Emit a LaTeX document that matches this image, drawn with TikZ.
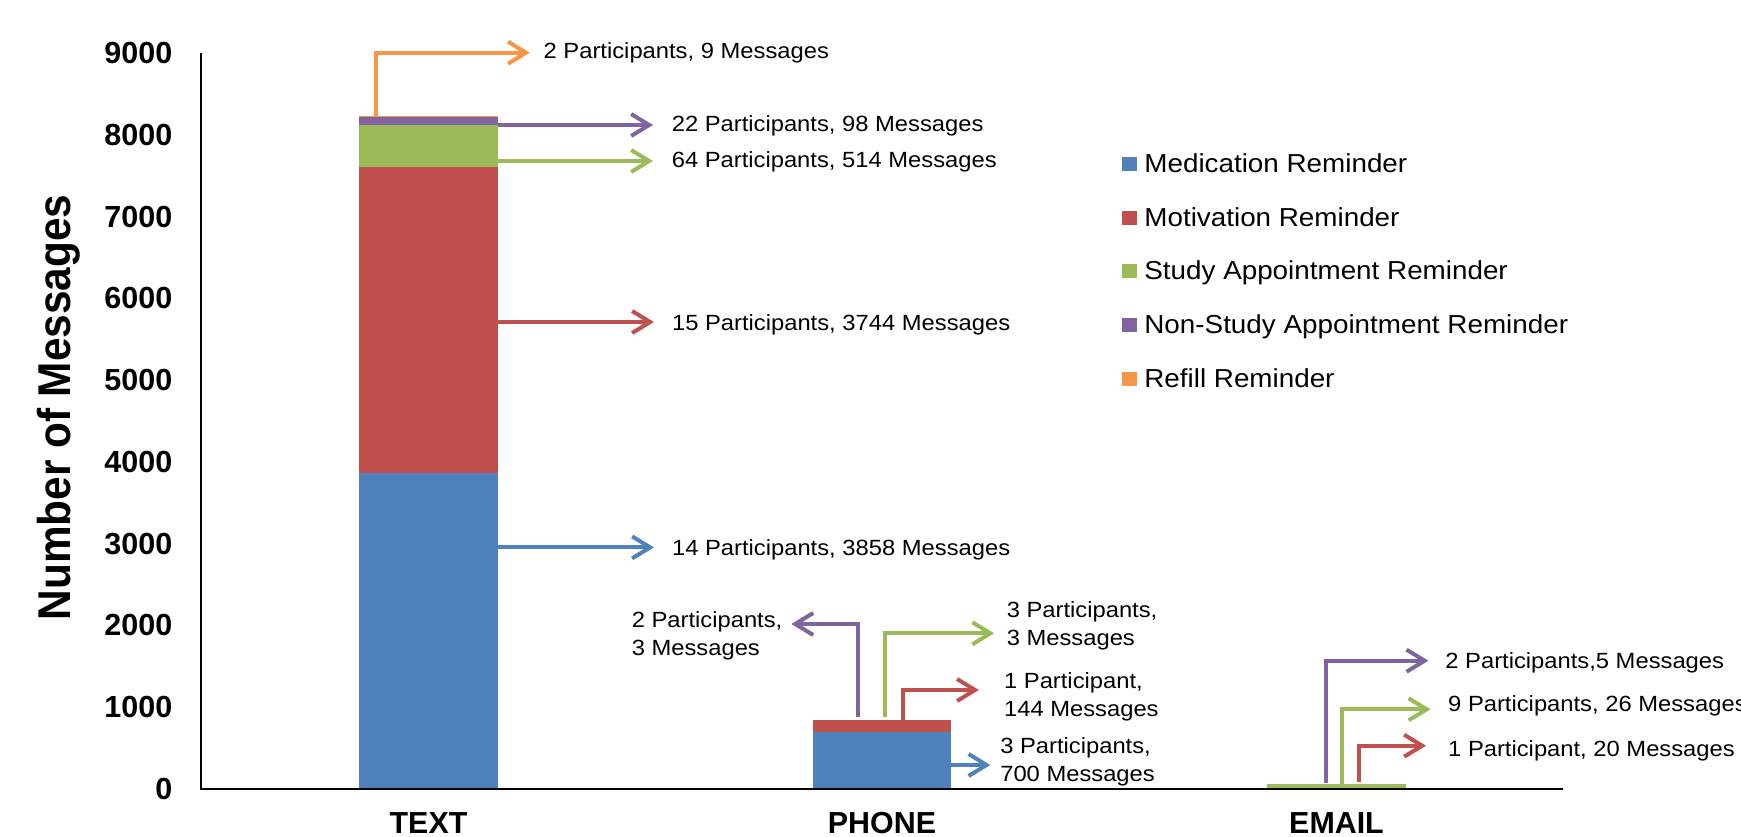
\documentclass[tikz,border=0pt]{standalone}
\usepackage{fontspec}
\setmainfont{Liberation Sans}
\newfontfamily\annotfont{Liberation Sans}[FakeStretch=1.08]
\newfontfamily\legfont{Liberation Sans}[FakeStretch=1.07]
\newfontfamily\ytitlefont{Liberation Sans}[FakeStretch=0.92]
\usetikzlibrary{arrows.meta}
\definecolor{cblue}{HTML}{4F81BD}
\definecolor{cred}{HTML}{C0504D}
\definecolor{cgreen}{HTML}{9BBB59}
\definecolor{cpurple}{HTML}{8064A2}
\definecolor{corange}{HTML}{F79646}
\tikzset{
  arr/.style={line width=2pt, -{Straight Barb[length=9pt,width=11pt]}},
  annot/.style={inner sep=0pt, font=\annotfont\fontsize{11pt}{14pt}\selectfont},
  annot2/.style={annot, align=left, anchor=west},
  ticklab/.style={inner sep=0pt, anchor=east, font=\bfseries\fontsize{15.25pt}{18pt}\selectfont},
  catlab/.style={inner sep=0pt, anchor=base, font=\bfseries\fontsize{15.2pt}{18pt}\selectfont},
  leglab/.style={inner sep=0pt, anchor=base west, font=\legfont\fontsize{13pt}{16pt}\selectfont},
  axisline/.style={line width=0.85pt, black}
}
\begin{document}
\begin{tikzpicture}[x=0.5pt, y=-0.5pt]
\useasboundingbox (0,0) rectangle (1741,836);
% bars TEXT
\fill[cblue]   (359,473.4) rectangle (498,789);
\fill[cred]    (359,167)   rectangle (498,473.4);
\fill[cgreen]  (359,125)   rectangle (498,167);
\fill[cpurple] (359,117)   rectangle (498,125);
\fill[corange] (359,115.5) rectangle (498,117);
% bars PHONE
\fill[cblue]   (813,731.7) rectangle (951,789);
\fill[cred]    (813,720)   rectangle (951,731.7);
% bars EMAIL
\fill[cgreen]  (1267,784.3) rectangle (1406,788.5);
% axes
\coordinate (yaxtop) at (201,53);
\coordinate (origin) at (201,789);
\coordinate (xaxend) at (1563,789);
\draw[axisline] (yaxtop) -- (origin) -- (xaxend);
% tick labels
\foreach \v/\n in {0/t0,1000/t1,2000/t2,3000/t3,4000/t4,5000/t5,6000/t6,7000/t7,8000/t8,9000/t9}
  \node[ticklab] (\n) at (172.7,{789-\v*0.081778}) {\v};
% axis title
\node[inner sep=0pt, rotate=90, anchor=base, font=\ytitlefont\bfseries\fontsize{23pt}{26pt}\selectfont] (ytitle) at (70,407.5) {Number of Messages};
% category labels
\node[catlab] (ctext)  at (428.5,833.5) {TEXT};
\node[catlab] (cphone) at (882,833.5) {PHONE};
\node[catlab] (cemail) at (1336.5,833.5) {EMAIL};
% legend
\foreach \i/\c/\t in {0/cblue/Medication Reminder,1/cred/Motivation Reminder,2/cgreen/Study Appointment Reminder,3/cpurple/Non-Study Appointment Reminder,4/corange/Refill Reminder}{
  \fill[\c] (1121.7,{156.7+53.8*\i}) rectangle (1136.7,{170.7+53.8*\i});
  \node[leglab] (leg\i) at (1144,{172.3+53.8*\i}) {\t};
}
% TEXT annotations
\coordinate (to1) at (375.9,115.7); \coordinate (to2) at (529.9,52.7);
\coordinate (tp1) at (498,125);     \coordinate (tp2) at (653,125);
\coordinate (tg1) at (498,161);     \coordinate (tg2) at (653,161);
\coordinate (tr1) at (498,322);     \coordinate (tr2) at (654,322);
\coordinate (tb1) at (498,547.4);   \coordinate (tb2) at (654,547.4);
\draw[arr, corange] (to1) |- (to2);
\draw[arr, cpurple] (tp1) -- (tp2);
\draw[arr, cgreen]  (tg1) -- (tg2);
\draw[arr, cred]    (tr1) -- (tr2);
\draw[arr, cblue]   (tb1) -- (tb2);
\node[annot, anchor=base west] (lto) at (543.3,58.3) {2 Participants, 9 Messages};
\node[annot, anchor=base west] (ltp) at (671.4,131.7) {22 Participants, 98 Messages};
\node[annot, anchor=base west] (ltg) at (671.4,167.3) {64 Participants, 514 Messages};
\node[annot, anchor=base west] (ltr) at (671.7,330) {15 Participants, 3744 Messages};
\node[annot, anchor=base west] (ltb) at (671.7,555) {14 Participants, 3858 Messages};
% PHONE annotations
\coordinate (pp1) at (858.3,716.7); \coordinate (pp2) at (791.4,624);
\coordinate (pg1) at (885,716.7);   \coordinate (pg2) at (994.2,633.3);
\coordinate (pr1) at (903,720);     \coordinate (pr2) at (978.9,690);
\coordinate (pb1) at (951,765);     \coordinate (pb2) at (990.4,765);
\draw[arr, cpurple] (pp1) |- (pp2);
\draw[arr, cgreen]  (pg1) |- (pg2);
\draw[arr, cred]    (pr1) |- (pr2);
\draw[arr, cblue]   (pb1) -- (pb2);
\node[annot2] (lpp) at (631.4,635.4) {2 Participants,\\3 Messages};
\node[annot2] (lpg) at (1006.4,625.4) {3 Participants,\\3 Messages};
\node[annot2] (lpr) at (1003.7,696.4) {1 Participant,\\144 Messages};
\node[annot2] (lpb) at (999.9,761.4) {3 Participants,\\700 Messages};
% EMAIL annotations
\coordinate (ep1) at (1326,782.7);   \coordinate (ep2) at (1428.4,660.7);
\coordinate (eg1) at (1341.5,785);   \coordinate (eg2) at (1430.5,709.3);
\coordinate (er1) at (1358.7,781.7); \coordinate (er2) at (1426,745.7);
\draw[arr, cpurple] (ep1) |- (ep2);
\draw[arr, cgreen]  (eg1) |- (eg2);
\draw[arr, cred]    (er1) |- (er2);
\node[annot, anchor=base west] (lep) at (1445,668.3) {2 Participants,5 Messages};
\node[annot, anchor=base west] (leg) at (1447.8,711.7) {9 Participants, 26 Messages};
\node[annot, anchor=base west] (ler) at (1447.8,756.5) {1 Participant, 20 Messages};
\end{tikzpicture}
\end{document}
